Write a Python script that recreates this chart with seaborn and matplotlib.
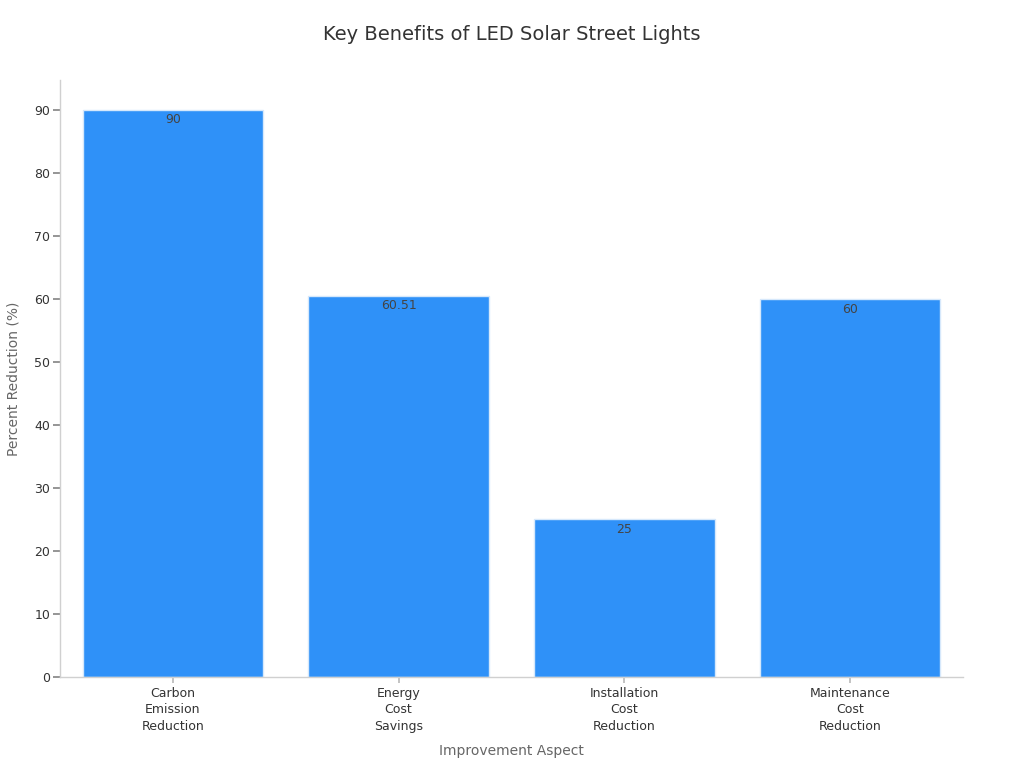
import pandas as pd
import seaborn as sns
import matplotlib.pyplot as plt

# data
aspects = ['Carbon\nEmission\nReduction', 'Energy\nCost\nSavings',
           'Installation\nCost\nReduction', 'Maintenance\nCost\nReduction']
reduction = [90, 60.51, 25, 60]
value_labels = ['90', '60.51', '25', '60']

df = pd.DataFrame({'Improvement Aspect': aspects, 'Percent Reduction (%)': reduction})

sns.set_theme(style="white")
plt.rcParams['font.family'] = ['DejaVu Sans']

fig = plt.figure(figsize=(10.24, 7.68), dpi=100)
ax = fig.add_axes([0.0586, 0.1185, 0.8818, 0.7773])

sns.barplot(data=df, x='Improvement Aspect', y='Percent Reduction (%)',
            color='#2F91F8', saturation=1, width=0.8,
            edgecolor='#D6E8FB', linewidth=1, ax=ax)

# value labels just inside the top of each bar
for i, (v, lab) in enumerate(zip(reduction, value_labels)):
    ax.text(i, v - 0.6, lab, ha='center', va='top', fontsize=9, color='#444444')

ax.set_xlim(-0.5, 3.5)
ax.set_ylim(0, 94.7)
ax.set_yticks(range(0, 91, 10))

fig.suptitle('Key Benefits of LED Solar Street Lights', fontsize=14, color='#333333', y=0.968)
ax.set_xlabel('Improvement Aspect', fontsize=10, color='#666666', labelpad=8)
ax.set_ylabel('Percent Reduction (%)', fontsize=10, color='#666666', labelpad=10)

for side in ['top', 'right']:
    ax.spines[side].set_visible(False)
for side in ['left', 'bottom']:
    ax.spines[side].set_color('#D0D0D0')
    ax.spines[side].set_linewidth(1)

ax.tick_params(axis='y', which='major', left=True, length=5, color='#888888',
               labelsize=9, labelcolor='#333333', pad=2)
ax.tick_params(axis='x', which='major', bottom=True, length=4, color='#BBBBBB',
               labelsize=9, labelcolor='#333333', pad=3)
for t in ax.get_xticklabels():
    t.set_linespacing(1.35)

fig.savefig('out.png', dpi=100)
